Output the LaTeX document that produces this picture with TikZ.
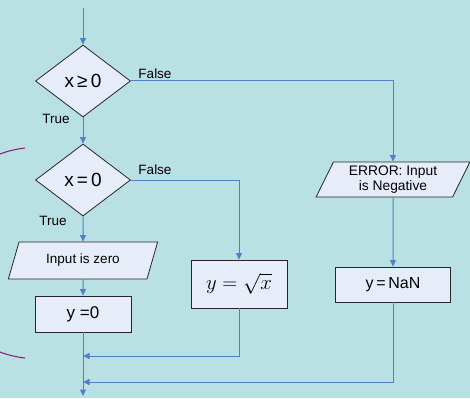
\documentclass[tikz,border=0pt]{standalone}
\usepackage{fontspec}
\setmainfont{Liberation Sans}
\usetikzlibrary{shapes.geometric,arrows.meta,shadows}
\definecolor{bgteal}{HTML}{B9E0E3}
\definecolor{boxfill}{HTML}{E7EDF8}
\definecolor{flowblue}{HTML}{4F81C8}
\definecolor{arcpurple}{HTML}{7A1A7A}
\begin{document}
\begin{tikzpicture}[x=1pt,y=-1pt,
  decision/.style={diamond, draw=black!85, line width=0.8pt, fill=boxfill,
    minimum width=95pt, minimum height=72pt, inner sep=0pt, aspect=1.32,
    font=\fontsize{19}{22}\selectfont},
  procbox/.style={rectangle, draw=black!85, line width=0.8pt, fill=boxfill,
    inner sep=0pt},
  iobox/.style={trapezium, trapezium stretches=true,
    trapezium left angle=64, trapezium right angle=116,
    draw=black!85, line width=0.8pt, fill=boxfill, inner sep=0pt, align=center},
  flow/.style={draw=flowblue, line width=1pt},
  flowarrow/.style={flow, -{Triangle[width=6pt,length=6.5pt]}},
  branch/.style={font=\fontsize{13.5}{16}\selectfont, inner sep=0pt},
]
\useasboundingbox (0,0) rectangle (470,398);
\fill[bgteal] (0,0) rectangle (470,398);

% bracket arc on the left margin
\begin{scope}
  \clip (0,0) rectangle (470,398);
  \draw[arcpurple, line width=1pt] (25,148) arc[start angle=96.5, end angle=263.5, radius=105.7pt];
\end{scope}

% decisions
\node[decision] (d1) at (83,81) {x\,≥\,0};
\node[decision] (d2) at (83,180) {x\,=\,0};

% input / output
\node[iobox, minimum width=150pt, minimum height=37pt,
      font=\fontsize{13.5}{15}\selectfont] (p1) at (83,260.5) {Input is zero};
\node[iobox, minimum width=154pt, minimum height=35pt, trapezium left angle=65.4,
      trapezium right angle=114.6,
      font=\fontsize{13.8}{15.5}\selectfont] (err) at (393,179.5) {ERROR: Input\\is Negative};

% processes
\node[procbox, minimum width=96pt, minimum height=36pt,
      font=\fontsize{17}{20}\selectfont] (y0) at (83,314) {y =0};
\node[procbox, minimum width=96pt, minimum height=48pt,
      drop shadow={shadow xshift=1.2pt, shadow yshift=-1.2pt, fill=black!60, opacity=0.8},
      font=\fontsize{20}{24}\selectfont] (sq) at (239,284) {$y=\sqrt{x}$};
\node[procbox, minimum width=115pt, minimum height=35pt,
      font=\fontsize{16}{19}\selectfont] (nan) at (393,284.5) {y\,=\,NaN};

% branch labels
\node[branch] (f1) at (155,74) {False};
\node[branch] (t1) at (56,119) {True};
\node[branch] (f2) at (155,170) {False};
\node[branch] (t2) at (53,221) {True};

% free ends and junctions
\coordinate (entry) at (83,8);
\coordinate (exit) at (83,396);
\coordinate (j1) at (83,356);
\coordinate (j2) at (83,382);

% connectors
\draw[flowarrow] (entry) -- (d1.north);
\draw[flowarrow] (d1.east) -| (err.north);
\draw[flowarrow] (d1.south) -- (d2.north);
\draw[flowarrow] (d2.east) -| (sq.north);
\draw[flowarrow] (d2.south) -- (p1.north);
\draw[flowarrow] (p1.south) -- (y0.north);
\draw[flowarrow] (y0.south) -- (exit);
\draw[flowarrow] (err.south) -- (nan.north);
\draw[flowarrow] (sq.south) |- (j1);
\draw[flowarrow] (nan.south) |- (j2);
\end{tikzpicture}
\end{document}
